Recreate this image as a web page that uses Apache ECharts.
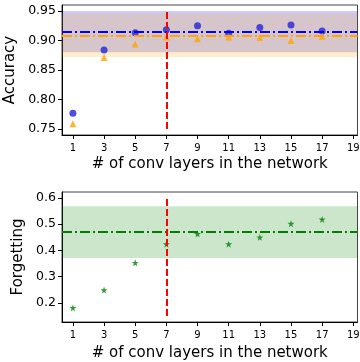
<!DOCTYPE html>
<html>
<head>
<meta charset="utf-8">
<script src="https://cdn.jsdelivr.net/npm/echarts@6/dist/echarts.min.js"></script>
<style>
  html, body { margin: 0; padding: 0; background: #fff; }
  #container { width: 360px; height: 362px; }
</style>
</head>
<body>
<div id="container"></div>
<script>
const chartIns = echarts.init(document.getElementById('container'));

// data
const layers = [1, 3, 5, 7, 9, 11, 13, 15, 17];
const xTicks = [1, 3, 5, 7, 9, 11, 13, 15, 17, 19];
const accBlue = [0.777, 0.884, 0.913, 0.918, 0.925, 0.912, 0.922, 0.926, 0.916];
const accOrange = [0.759, 0.871, 0.894, 0.906, 0.903, 0.906, 0.905, 0.900, 0.907];
const forgetting = [0.181, 0.249, 0.353, 0.424, 0.463, 0.424, 0.450, 0.502, 0.518];
const accTicks = [0.75, 0.80, 0.85, 0.90, 0.95];
const forgetTicks = [0.2, 0.3, 0.4, 0.5, 0.6];

const blueMean = 0.9146, blueBand = [0.880, 0.950];
const orangeMean = 0.9085, orangeBand = [0.872, 0.946];
const greenMean = 0.471, greenBand = [0.371, 0.568];
const chosenLayer = 7;
const accVline = [0.75, 0.95];
const forgetVline = [0.15, 0.60];

const X_MIN = 0.3, X_MAX = 19.27;
const FONT = 'DejaVu Sans';
const dashDot = [10, 3, 2, 3];

const xAxisBase = (gridIndex, gap) => ({
  type: 'value',
  gridIndex: gridIndex,
  min: X_MIN,
  max: X_MAX,
  name: '# of conv layers in the network',
  nameLocation: 'middle',
  nameGap: gap,
  nameTextStyle: { fontFamily: FONT, fontSize: 15, color: '#000' },
  splitLine: { show: false },
  axisLine: { show: true, onZero: false, lineStyle: { color: '#000', width: 1 } },
  axisTick: { show: true, inside: false, length: 4, customValues: xTicks, lineStyle: { color: '#000' } },
  axisLabel: { fontFamily: FONT, fontSize: 10, color: '#000', margin: 8, customValues: xTicks }
});

const yAxisBase = (gridIndex, name, gap, min, max, ticks, digits) => ({
  type: 'value',
  gridIndex: gridIndex,
  min: min,
  max: max,
  name: name,
  nameLocation: 'middle',
  nameGap: gap,
  nameTextStyle: { fontFamily: FONT, fontSize: 15, color: '#000' },
  splitLine: { show: false },
  axisLine: { show: true, onZero: false, lineStyle: { color: '#000', width: 1 } },
  axisTick: { show: true, inside: false, length: 4, customValues: ticks, lineStyle: { color: '#000' } },
  axisLabel: {
    fontFamily: FONT, fontSize: 12.5, color: '#000', margin: 6, customValues: ticks,
    formatter: (v) => v.toFixed(digits)
  }
});

const pts = (ys) => layers.map((x, i) => [x, ys[i]]);

// empty helper series that carry the bands and the reference lines
const bandSeries = (axis, bands) => ({
  type: 'line', xAxisIndex: axis, yAxisIndex: axis, data: [], z: 1,
  markArea: {
    silent: true,
    data: bands.map(b => [{ yAxis: b.range[0], itemStyle: { color: b.color } }, { yAxis: b.range[1] }])
  }
});

const hline = (y, color) => [
  { coord: [X_MIN, y], lineStyle: { color: color, width: 2, type: dashDot } },
  { coord: [X_MAX, y] }
];

const vline = (range) => [
  { coord: [chosenLayer, range[0]], lineStyle: { color: '#ff0000', width: 2, type: [7, 3] } },
  { coord: [chosenLayer, range[1]] }
];

const lineSeries = (axis, lines, z) => ({
  type: 'line', xAxisIndex: axis, yAxisIndex: axis, data: [], z: z,
  markLine: {
    silent: true,
    symbol: 'none',
    label: { show: false },
    data: lines
  }
});

const gridBase = (top) => ({
  left: 62, top: top, width: 295.5, height: 130,
  outerBoundsMode: 'none', containLabel: false,
  show: true, borderColor: '#444', borderWidth: 1, backgroundColor: 'transparent'
});

const option = {
  animation: false,
  grid: [gridBase(5), gridBase(192)],
  xAxis: [xAxisBase(0, 22), xAxisBase(1, 24)],
  yAxis: [
    yAxisBase(0, 'Accuracy', 38, 0.74, 0.96, accTicks, 2),
    yAxisBase(1, 'Forgetting', 30, 0.1275, 0.6225, forgetTicks, 1)
  ],
  series: [
    bandSeries(0, [
      { range: blueBand, color: 'rgba(0,0,255,0.2)' },
      { range: orangeBand, color: 'rgba(255,165,0,0.2)' }
    ]),
    {
      type: 'scatter',
      xAxisIndex: 0, yAxisIndex: 0,
      symbol: 'circle',
      symbolSize: 7,
      itemStyle: { color: '#2424d8' },
      z: 3,
      data: pts(accBlue)
    },
    {
      type: 'scatter',
      xAxisIndex: 0, yAxisIndex: 0,
      symbol: 'triangle',
      symbolSize: 7,
      itemStyle: { color: '#ffa500' },
      z: 3,
      data: pts(accOrange)
    },
    lineSeries(0, [hline(blueMean, '#0000ff')], 4),
    lineSeries(0, [hline(orangeMean, '#ffa500')], 5),
    lineSeries(0, [vline(accVline)], 6),
    bandSeries(1, [{ range: greenBand, color: 'rgba(0,128,0,0.2)' }]),
    {
      type: 'scatter',
      xAxisIndex: 1, yAxisIndex: 1,
      symbol: 'path://M50,0 L61.8,35.1 L98.9,35.1 L69.1,57.3 L79.4,92.7 L50,71.5 L20.6,92.7 L30.9,57.3 L1.1,35.1 L38.2,35.1 Z',
      symbolSize: 7,
      itemStyle: { color: '#008000' },
      z: 3,
      data: pts(forgetting)
    },
    lineSeries(1, [hline(greenMean, '#008000')], 4),
    lineSeries(1, [vline(forgetVline)], 6)
  ]
};

chartIns.setOption(option);
</script>
</body>
</html>
